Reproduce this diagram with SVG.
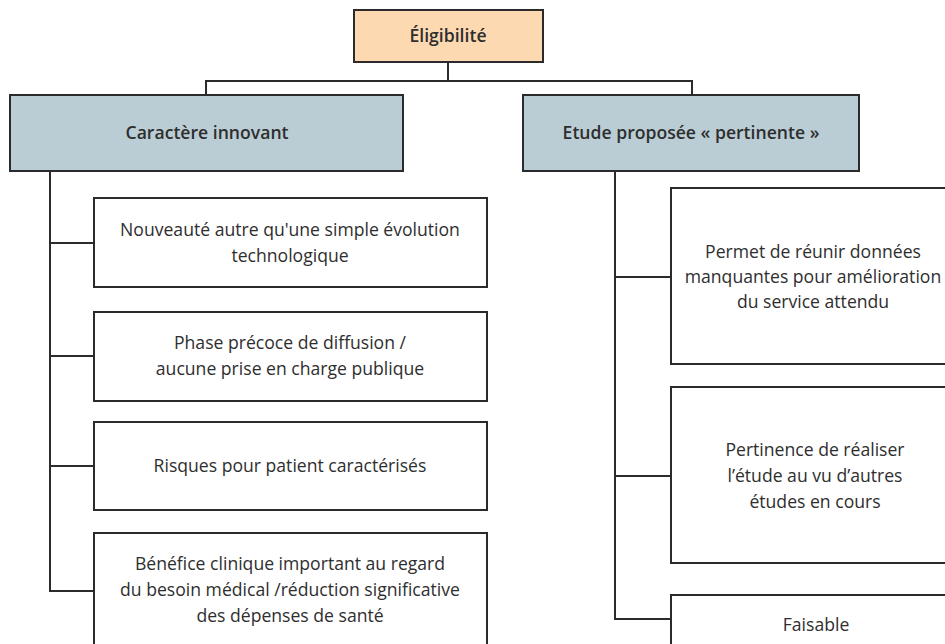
<svg xmlns="http://www.w3.org/2000/svg" width="945" height="644" viewBox="0 0 945 644">
<style>
.box{stroke:#2b2b2b;stroke-width:2;fill:#fff}
.top{fill:#fcd9b1}
.cat{fill:#bbcdd4}
.conn{stroke:#2b2b2b;stroke-width:2;fill:none}
text{font-family:"Open Sans","Liberation Sans",sans-serif;font-size:17.6px;fill:#2e2e2e;text-anchor:middle}
.b{font-weight:600}
</style>
<rect width="945" height="644" fill="#fff"/>
<g id="connectors">
<path class="conn" d="M448,62V81M206,81H692M206,80V95M692,80V95"/>
<path class="conn" d="M50,171V592M49,243H94M49,356H94M49,466H94M49,591H94"/>
<path class="conn" d="M615,171V620M614,277H671M614,476H671M614,619H671"/>
</g>
<g id="eligibilite">
<rect class="box top" x="354" y="10" width="189" height="52"/>
<text class="b" x="448" y="42">Éligibilité</text>
</g>
<g id="caractere">
<rect class="box cat" x="10" y="95" width="393" height="76"/>
<text class="b" x="207" y="139">Caractère innovant</text>
</g>
<g id="etude">
<rect class="box cat" x="523" y="95" width="336" height="76"/>
<text class="b" x="691" y="139">Etude proposée « pertinente »</text>
</g>
<g id="nouveaute">
<rect class="box" x="94" y="198" width="393" height="89"/>
<text x="290" y="236">Nouveauté autre qu'une simple évolution</text>
<text x="290" y="262">technologique</text>
</g>
<g id="phase">
<rect class="box" x="94" y="312" width="393" height="89"/>
<text x="290" y="349">Phase précoce de diffusion /</text>
<text x="290" y="375">aucune prise en charge publique</text>
</g>
<g id="risques">
<rect class="box" x="94" y="422" width="393" height="88"/>
<text x="290" y="472">Risques pour patient caractérisés</text>
</g>
<g id="benefice">
<rect class="box" x="94" y="533" width="393" height="130"/>
<text x="290" y="570">Bénéfice clinique important au regard</text>
<text x="290" y="596">du besoin médical /réduction significative</text>
<text x="290" y="622">des dépenses de santé</text>
</g>
<g id="permet">
<rect class="box" x="671" y="188" width="300" height="176"/>
<text x="813" y="258">Permet de réunir données</text>
<text x="813" y="283">manquantes pour amélioration</text>
<text x="813" y="308">du service attendu</text>
</g>
<g id="pertinence">
<rect class="box" x="671" y="387" width="300" height="176"/>
<text x="815" y="456">Pertinence de réaliser</text>
<text x="815" y="482">l’étude au vu d’autres</text>
<text x="815" y="508">études en cours</text>
</g>
<g id="faisable">
<rect class="box" x="671" y="595" width="300" height="100"/>
<text x="816" y="631">Faisable</text>
</g>
</svg>
